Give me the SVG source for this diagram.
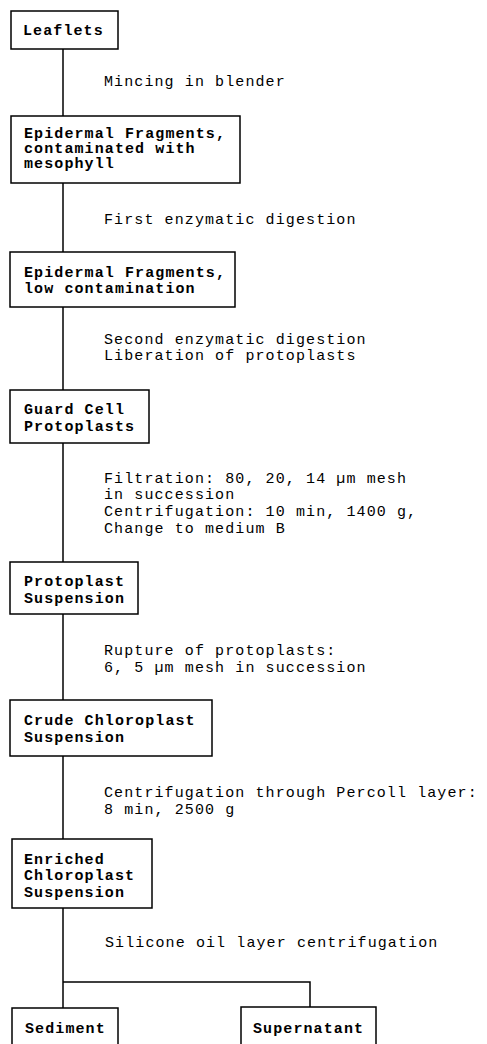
<svg xmlns="http://www.w3.org/2000/svg" width="487" height="1044" viewBox="0 0 487 1044">
<style>
.box{fill:#fff;stroke:#000;stroke-width:1.5}
.t{font-family:"Liberation Mono",monospace;font-size:15px;letter-spacing:1.1px;fill:#000}
.b{font-weight:bold}
.c{stroke:#000;stroke-width:1.5;fill:none}
</style>
<rect width="487" height="1044" fill="#fff"/>
<g id="connectors">
<line class="c" x1="63" y1="49" x2="63" y2="116"/>
<line class="c" x1="63" y1="183" x2="63" y2="252"/>
<line class="c" x1="63" y1="307" x2="63" y2="390"/>
<line class="c" x1="63" y1="443" x2="63" y2="562"/>
<line class="c" x1="63" y1="614" x2="63" y2="700"/>
<line class="c" x1="63" y1="756" x2="63" y2="839"/>
<polyline class="c" points="63,908 63,1008"/>
<polyline class="c" points="63,982 310,982 310,1007"/>
<text class="t" x="104" y="86">Mincing in blender</text>
<text class="t" x="104" y="224">First enzymatic digestion</text>
<text class="t" x="104" y="344">Second enzymatic digestion</text>
<text class="t" x="104" y="360">Liberation of protoplasts</text>
<text class="t" x="104" y="483">Filtration: 80, 20, 14 µm mesh</text>
<text class="t" x="104" y="499">in succession</text>
<text class="t" x="104" y="516">Centrifugation: 10 min, 1400 g,</text>
<text class="t" x="104" y="533">Change to medium B</text>
<text class="t" x="104" y="655">Rupture of protoplasts:</text>
<text class="t" x="104" y="672">6, 5 µm mesh in succession</text>
<text class="t" x="104" y="797">Centrifugation through Percoll layer:</text>
<text class="t" x="104" y="814">8 min, 2500 g</text>
<text class="t" x="105" y="947">Silicone oil layer centrifugation</text>
</g>
<g id="n1"><rect class="box" x="11" y="11" width="107" height="38"/><text class="t b" x="23" y="35">Leaflets</text></g>
<g id="n2"><rect class="box" x="11" y="116" width="229" height="67"/><text class="t b" x="24" y="138">Epidermal Fragments,</text><text class="t b" x="24" y="153">contaminated with</text><text class="t b" x="24" y="168">mesophyll</text></g>
<g id="n3"><rect class="box" x="10" y="252" width="225" height="55"/><text class="t b" x="24" y="277">Epidermal Fragments,</text><text class="t b" x="24" y="293">low contamination</text></g>
<g id="n4"><rect class="box" x="10" y="390" width="139" height="53"/><text class="t b" x="24" y="414">Guard Cell</text><text class="t b" x="24" y="431">Protoplasts</text></g>
<g id="n5"><rect class="box" x="10" y="562" width="128" height="52"/><text class="t b" x="24" y="586">Protoplast</text><text class="t b" x="24" y="603">Suspension</text></g>
<g id="n6"><rect class="box" x="10" y="700" width="202" height="56"/><text class="t b" x="24" y="725">Crude Chloroplast</text><text class="t b" x="24" y="742">Suspension</text></g>
<g id="n7"><rect class="box" x="12" y="839" width="140" height="69"/><text class="t b" x="24" y="864">Enriched</text><text class="t b" x="24" y="880">Chloroplast</text><text class="t b" x="24" y="897">Suspension</text></g>
<g id="n8"><rect class="box" x="12" y="1008" width="106" height="45"/><text class="t b" x="25" y="1033">Sediment</text></g>
<g id="n9"><rect class="box" x="241" y="1007" width="135" height="46"/><text class="t b" x="253" y="1033">Supernatant</text></g>
</svg>
